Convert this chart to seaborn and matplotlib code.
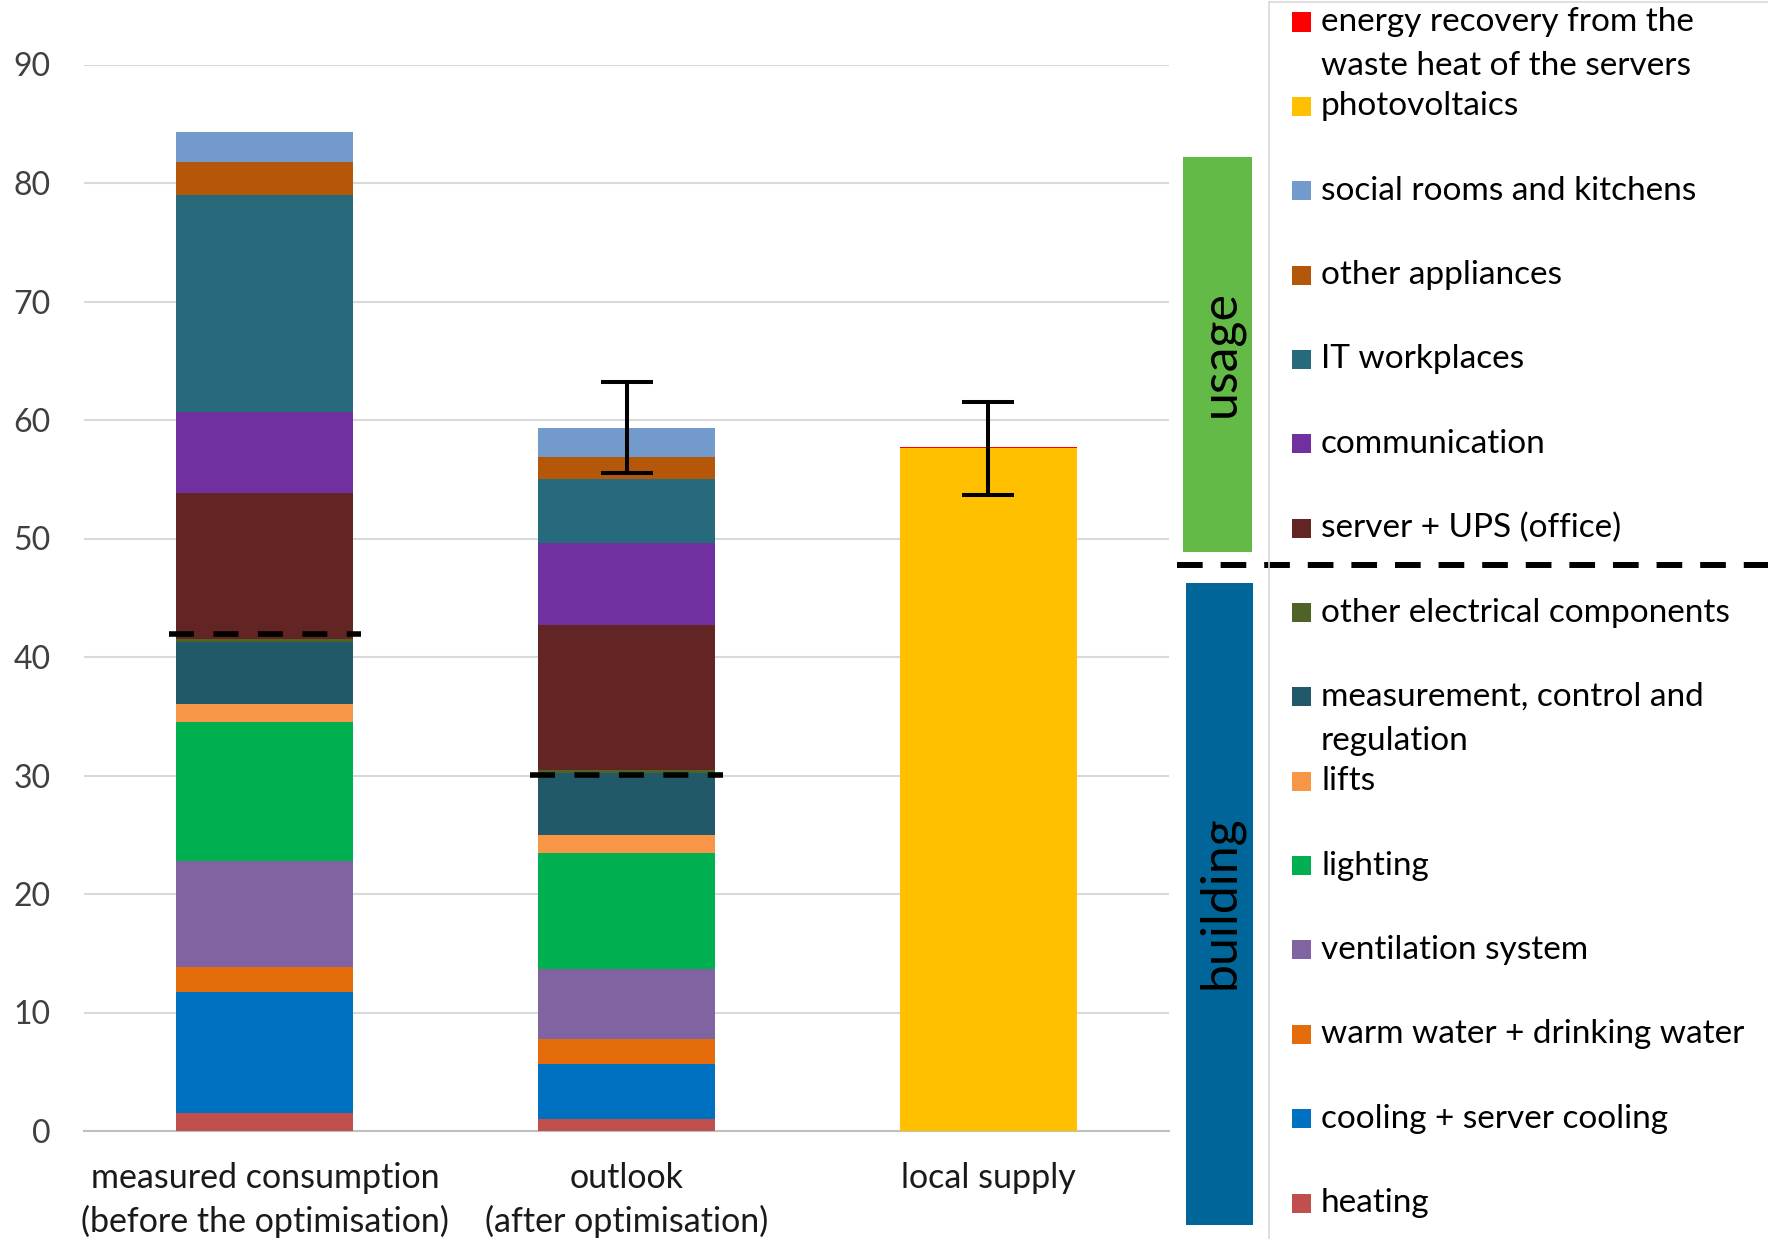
import matplotlib
matplotlib.use("Agg")
import matplotlib.pyplot as plt
import seaborn as sns
import numpy as np
from matplotlib.patches import Rectangle
from matplotlib.lines import Line2D

# ---- data -------------------------------------------------------------
categories = ["measured consumption\n(before the optimisation)",
              "outlook\n(after optimisation)",
              "local supply"]

heating = [1.55, 1.0, 0.0]
cooling = [10.2, 4.65, 0.0]
warm_water = [2.05, 2.1, 0.0]
ventilation = [9.0, 5.9, 0.0]
lighting = [11.7, 9.85, 0.0]
lifts = [1.5, 1.45, 0.0]
measurement_control = [5.3, 5.3, 0.0]
other_electrical = [0.2, 0.25, 0.0]
server_ups = [12.3, 12.2, 0.0]
communication = [6.9, 6.9, 0.0]
it_workplaces = [18.3, 5.45, 0.0]
other_appliances = [2.8, 1.8, 0.0]
social_rooms = [2.5, 2.5, 0.0]
photovoltaics = [0.0, 0.0, 57.6]
energy_recovery = [0.0, 0.0, 0.15]

error_margin = [0.0, 3.85, 3.9]
split_level = [41.9, 30.05]          # building / usage split on the first two bars

yticks = [0, 10, 20, 30, 40, 50, 60, 70, 80, 90]

series_names = ["heating", "cooling + server cooling", "warm water + drinking water",
                "ventilation system", "lighting", "lifts",
                "measurement, control and\nregulation", "other electrical components",
                "server + UPS (office)", "communication", "IT workplaces",
                "other appliances", "social rooms and kitchens", "photovoltaics",
                "energy recovery from the\nwaste heat of the servers"]
series_values = [heating, cooling, warm_water, ventilation, lighting, lifts,
                 measurement_control, other_electrical, server_ups, communication,
                 it_workplaces, other_appliances, social_rooms, photovoltaics,
                 energy_recovery]
series_colors = ["#C0504D", "#0070C0", "#E46C0A", "#8064A2", "#00B050", "#F79646",
                 "#215968", "#4F6228", "#632523", "#7030A0", "#276A7B",
                 "#B45709", "#729ACA", "#FFC000", "#FF0000"]

# ---- figure -----------------------------------------------------------
sns.set_theme(style="white")
plt.rcParams["font.family"] = ["Lato", "DejaVu Sans"]

W, H = 1768, 1239
fig = plt.figure(figsize=(W / 100, H / 100), dpi=100)
ax = fig.add_axes([84 / W, 1 - 1131 / H, (1169 - 84) / W, (1131 - 64.5) / H])

bar_width = 0.49
bottom = np.zeros(len(categories))
for name, vals, col in zip(series_names, series_values, series_colors):
    sns.barplot(x=categories, y=vals, order=categories, color=col, saturation=1,
                width=bar_width, errorbar=None, bottom=bottom.copy(),
                linewidth=0, ax=ax, zorder=3)
    bottom = bottom + np.asarray(vals)

# error bars sit on the top of the supply-relevant stack
stack_top = bottom - np.asarray(energy_recovery)
xs = np.arange(len(categories))
has_err = np.asarray(error_margin) > 0
ax.errorbar(xs[has_err], stack_top[has_err], yerr=np.asarray(error_margin)[has_err],
            fmt="none", ecolor="black", elinewidth=2.9, capsize=18.4, capthick=2.9,
            zorder=5)

# dashed split markers inside the consumption bars
for i, lvl in enumerate(split_level):
    ax.hlines(lvl, i - 0.266, i + 0.266, colors="black", linewidth=4.0,
              linestyles=(0, (4.5, 3.5)), zorder=6)

ax.set_xlim(-0.5, 2.5)
ax.set_ylim(0, 90)
ax.set_yticks(yticks)
ax.yaxis.grid(True, color="#D9D9D9", linewidth=1.5, zorder=0)
ax.set_axisbelow(True)
for s in ["left", "right", "top"]:
    ax.spines[s].set_visible(False)
ax.spines["bottom"].set_color("#BFBFBF")
ax.spines["bottom"].set_linewidth(1.5)
ax.tick_params(axis="y", length=0, pad=24, labelsize=23, labelcolor="#404040")
ax.tick_params(axis="x", length=0, pad=22, labelsize=24.5, labelcolor="#1A1A1A")
for lab in ax.get_xticklabels():
    lab.set_linespacing(1.42)
ax.set_xlabel("")
ax.set_ylabel("")

# ---- right-hand panel: category boxes ---------------------------------
fig.add_artist(Rectangle((1183 / W, 1 - 552 / H), 69 / W, 395 / H,
                         transform=fig.transFigure, facecolor="#63BA46",
                         edgecolor="none"))
fig.add_artist(Rectangle((1186 / W, 1 - 1225 / H), 67 / W, 642 / H,
                         transform=fig.transFigure, facecolor="#00669A",
                         edgecolor="none"))
fig.text(1221 / W, 1 - 354 / H, "usage", rotation=90, ha="center", va="center",
         fontsize=36, color="black")
fig.text(1220 / W, 1 - 902 / H, "building", rotation=90, ha="center", va="center",
         fontsize=36, color="black")
fig.add_artist(Line2D([1177 / W, 1.0], [1 - 564.5 / H] * 2, transform=fig.transFigure,
                      color="black", linewidth=4.3, linestyle=(0, (4.3, 3.0))))

# ---- legend ------------------------------------------------------------
fig.add_artist(Line2D([1268.6 / W, 1268.6 / W], [0, 1 - 2 / H], transform=fig.transFigure,
                      color="#D9D9D9", linewidth=1.2))
fig.add_artist(Line2D([1268.6 / W, 1.0], [1 - 2 / H] * 2, transform=fig.transFigure,
                      color="#D9D9D9", linewidth=1.2))

row0, pitch, line_px = 22.0, 84.36, 44
for i, (name, col) in enumerate(zip(series_names[::-1], series_colors[::-1])):
    yc = row0 + pitch * i
    fig.add_artist(Rectangle((1292 / W, 1 - (yc + 9.5) / H), 19 / W, 19 / H,
                             transform=fig.transFigure, facecolor=col,
                             edgecolor="none"))
    n_lines = name.count("\n") + 1
    ty = yc + (n_lines - 1) * line_px / 2
    fig.text(1321 / W, 1 - ty / H, name, ha="left", va="center", fontsize=24,
             color="black", linespacing=1.58)

fig.savefig("out.png", dpi=100)
